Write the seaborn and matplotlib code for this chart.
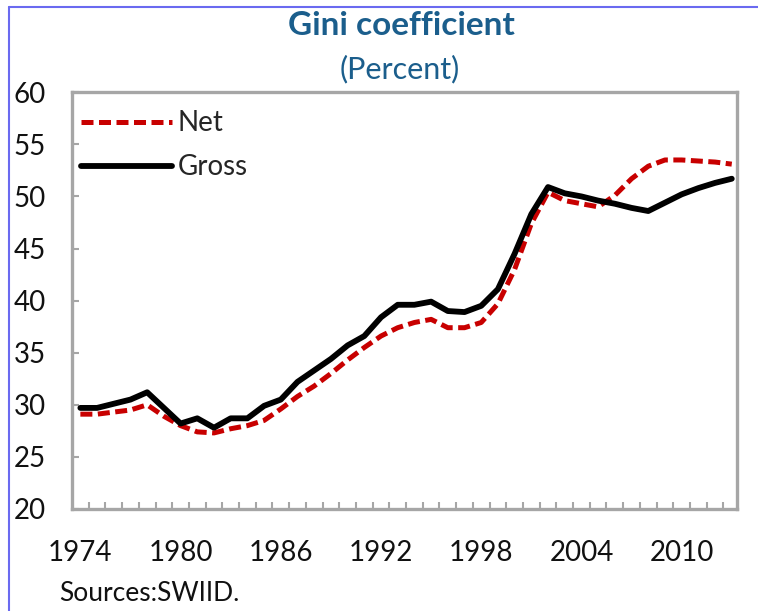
import numpy as np
import pandas as pd
import matplotlib.pyplot as plt
import seaborn as sns
from matplotlib.lines import Line2D
from matplotlib.ticker import MultipleLocator, FixedLocator

sns.set_theme(style="white")
plt.rcParams['font.family'] = ['Lato', 'DejaVu Sans']

years = list(range(1974, 2014))
net = [29.1, 29.1, 29.3, 29.5, 30.0, 28.9, 28.0, 27.4, 27.3, 27.7,
       28.0, 28.5, 29.6, 30.8, 31.8, 33.0, 34.3, 35.5, 36.6, 37.4,
       37.9, 38.2, 37.4, 37.4, 37.9, 39.7, 43.0, 47.4, 50.4, 49.6,
       49.3, 49.0, 50.1, 51.7, 52.9, 53.5, 53.5, 53.4, 53.3, 53.1]
gross = [29.7, 29.7, 30.1, 30.5, 31.2, 29.7, 28.2, 28.7, 27.8, 28.7,
         28.7, 29.9, 30.5, 32.2, 33.3, 34.4, 35.7, 36.6, 38.4, 39.6,
         39.6, 39.9, 39.0, 38.9, 39.5, 41.1, 44.5, 48.3, 50.9, 50.3,
         50.0, 49.6, 49.3, 48.9, 48.6, 49.4, 50.2, 50.8, 51.3, 51.7]
year_labels = [1974, 1980, 1986, 1992, 1998, 2004, 2010]

df = pd.DataFrame({'year': years, 'Net': net, 'Gross': gross})

fig = plt.figure(figsize=(7.58, 6.11), dpi=100)
ax = fig.add_axes([0.095, 0.167, 0.877, 0.682])

sns.lineplot(data=df, x='year', y='Net', ax=ax, color='#C80000', lw=3.6, label='Net')
sns.lineplot(data=df, x='year', y='Gross', ax=ax, color='black', lw=4.2, label='Gross')
ax.lines[0].set_dashes((2.4, 1.1))

ax.set_xlim(1973.5, 2013.3)
ax.set_ylim(20, 60)
ax.set_xlabel('')
ax.set_ylabel('')

for s in ax.spines.values():
    s.set_color('#A6A6A6')
    s.set_linewidth(2.4)

ax.yaxis.set_major_locator(MultipleLocator(5))
ax.tick_params(axis='y', direction='in', length=5, width=1.5, color='#A6A6A6',
               labelsize=20, pad=19, left=True)
ax.xaxis.set_major_locator(FixedLocator(year_labels))
ax.xaxis.set_minor_locator(FixedLocator([y + 0.5 for y in years[:-1]]))
ax.tick_params(axis='x', which='major', length=0, labelsize=20, pad=22)
ax.tick_params(axis='x', which='minor', direction='in', length=5, width=1.5,
               color='#A6A6A6', bottom=True)
for t in ax.get_xticklabels() + ax.get_yticklabels():
    t.set_color('#111111')

ax.legend(loc='upper left', bbox_to_anchor=(-0.008, 0.99), frameon=False, fontsize=20,
          handlelength=3.3, handletextpad=0.2, borderaxespad=0.1, labelspacing=0.65)

fig.text(0.529, 0.959, 'Gini coefficient', ha='center', va='center',
         fontsize=24, fontweight='bold', color='#1B5E8C')
fig.text(0.528, 0.887, '(Percent)', ha='center', va='center',
         fontsize=22, color='#1B5E8C')
fig.text(0.078, 0.008, 'Sources:SWIID.', ha='left', va='bottom', fontsize=19, color='#111111')

# blue frame round the picture
fig.add_artist(Line2D([0.012, 1.0], [0.989, 0.989], color='#6A6AF0', lw=1.5))
fig.add_artist(Line2D([0.012, 0.012], [0.0, 0.989], color='#6A6AF0', lw=1.5))

fig.savefig('out.png', dpi=100)
